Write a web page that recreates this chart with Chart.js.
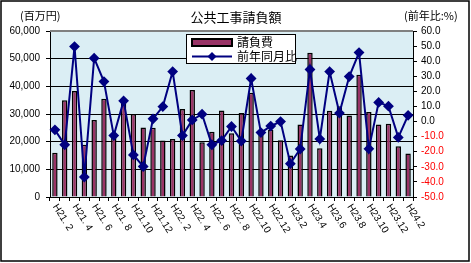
<!DOCTYPE html>
<html>
<head>
<meta charset="utf-8">
<script src="https://cdn.jsdelivr.net/npm/chart.js@4.4.0/dist/chart.umd.min.js"></script>
<style>
html,body{margin:0;padding:0;background:#fff;}
canvas{display:block;}
</style>
</head>
<body>
<canvas id="c" width="471" height="263"></canvas>
<script>
// -------------------- data
var months = ['H21. 2','H21. 3','H21. 4','H21. 5','H21. 6','H21. 7','H21. 8','H21. 9','H21.10','H21.11','H21.12',
	'H22. 1','H22. 2','H22. 3','H22. 4','H22. 5','H22. 6','H22. 7','H22. 8','H22. 9','H22.10','H22.11','H22.12',
	'H23.1','H23.2','H23.3','H23.4','H23.5','H23.6','H23.7','H23.8','H23.9','H23.10','H23.11','H23.12',
	'H24.1','H24.2'];
var amounts = [16000,35000,38300,18900,27800,35500,22000,34800,30000,25100,25000,
	20400,21000,31800,38700,19800,23600,31300,23000,30400,37700,23100,24300,
	20500,15000,26200,52100,17600,31200,32800,29500,44200,30700,26200,26500,
	18300,15700];
var ratios = [-5.5,-15.4,49.7,-36.8,42.0,26.5,-9.3,13.7,-22.1,-29.8,1.8,
	9.9,33.1,-9.3,1.1,4.9,-15.4,-12.6,-3.3,-12.9,28.5,-7.3,-3.0,
	0.0,-27.9,-18.2,34.5,-11.5,33.1,5.6,29.8,45.7,-18.1,12.7,10.2,
	-10.5,4.1];
var chartTitle = '公共工事請負額';
var leftUnit = '(百万円)';
var rightUnit = '(前年比:%)';

var barColor = '#993366';
var lineColor = '#000080';

function commas(v){
	return String(v).replace(/\B(?=(\d{3})+(?!\d))/g, ',');
}

// -------------------- extras drawn on the canvas
var deco = {
	id: 'deco',
	beforeDraw: function(chart){
		var c = chart.ctx, a = chart.chartArea;
		c.save();
		c.fillStyle = '#fff';
		c.fillRect(0,0,chart.width,chart.height);
		c.fillStyle = '#dbeef4';
		c.fillRect(a.left,a.top,a.right-a.left,a.bottom-a.top);
		c.restore();
	},
	afterDraw: function(chart){
		var c = chart.ctx, a = chart.chartArea, xs = chart.scales.x;
		var ds = chart.data.datasets;
		c.save();

		// plot area top edge
		c.strokeStyle = '#808080'; c.lineWidth = 2;
		c.beginPath(); c.moveTo(a.left,a.top); c.lineTo(a.right,a.top); c.stroke();

		// titles
		c.fillStyle = '#000';
		c.textBaseline = 'middle';
		c.font = '13px "Noto Sans CJK JP"';
		c.textAlign = 'center';
		c.fillText(chartTitle, 236, 17);
		c.font = '11px "Noto Sans CJK JP"';
		c.textAlign = 'left';
		c.fillText(leftUnit, 20, 16);
		c.fillText(rightUnit, 404, 16);

		// x labels, every other month, turned clockwise
		c.font = '10px "Liberation Sans"';
		for(var i = 0;i<months.length;i+=2){
			var x = xs.getPixelForValue(i);
			c.save();
			c.translate(x, a.bottom+8);
			c.rotate(58*Math.PI/180);
			c.fillText(months[i],0,0);
			c.restore();
		}

		// legend
		var lx = 186, ly = 34, lw = 109, lh = 29;
		c.fillStyle = '#fff'; c.fillRect(lx,ly,lw,lh);
		c.strokeStyle = '#000'; c.lineWidth = 1;
		c.strokeRect(lx+0.5,ly+0.5,lw,lh);
		c.fillStyle = ds[0].backgroundColor; c.fillRect(192,39,40,7);
		c.lineWidth = 2; c.strokeRect(192,39,40,7);
		c.strokeStyle = ds[1].borderColor;
		c.beginPath(); c.moveTo(192,56.5); c.lineTo(232,56.5); c.stroke();
		c.fillStyle = ds[1].borderColor;
		c.beginPath(); c.moveTo(212,52); c.lineTo(216.5,56.5); c.lineTo(212,61); c.lineTo(207.5,56.5); c.closePath(); c.fill();
		c.fillStyle = '#000';
		c.font = '12px "Noto Sans CJK JP"';
		c.fillText(ds[0].label, 237, 42.5);
		c.fillText(ds[1].label, 237, 56.5);

		// outer frame
		c.strokeStyle = '#000'; c.lineWidth = 1.5;
		c.strokeRect(1,1,chart.width-3,chart.height-3);
		c.restore();
	}
};

Chart.defaults.font.family = '"Liberation Sans", Arial, sans-serif';
Chart.defaults.font.size = 10;
Chart.defaults.color = '#000';

var ctx = document.getElementById('c').getContext('2d');
window.chart1 = new Chart(ctx, {
	type: 'bar',
	data: {
		labels: months,
		datasets: [{
			type: 'bar',
			label: '請負費',
			data: amounts,
			yAxisID: 'y',
			backgroundColor: barColor,
			borderColor: '#000',
			borderWidth: 1.5,
			barPercentage: 0.55,
			categoryPercentage: 1,
			order: 2
		},{
			type: 'line',
			label: '前年同月比',
			data: ratios,
			yAxisID: 'y1',
			borderColor: lineColor,
			backgroundColor: lineColor,
			borderWidth: 2,
			pointStyle: 'rectRot',
			pointRadius: 4,
			pointBackgroundColor: lineColor,
			pointBorderColor: lineColor,
			tension: 0,
			fill: false,
			order: 1
		}]
	},
	options: {
		responsive: false,
		animation: false,
		devicePixelRatio: 1,
		layout: { padding: { top: 31, left: 0, right: 0, bottom: 0 } },
		plugins: { legend: { display: false }, tooltip: { enabled: false }, title: { display: false } },
		scales: {
			x: {
				offset: true,
				grid: { offset: true, drawOnChartArea: false, drawTicks: true, tickLength: 4, color: '#000' },
				border: { color: '#000', width: 1 },
				ticks: { display: false },
				afterFit: function(s){ s.height = 66; }
			},
			y: {
				position: 'left',
				min: 0, max: 60000,
				ticks: { stepSize: 10000, padding: 6, callback: function(v){ return commas(v); } },
				grid: { color: '#000', lineWidth: 1, tickLength: 4 },
				border: { color: '#000', width: 1 },
				afterFit: function(s){ s.width = 50; }
			},
			y1: {
				position: 'right',
				min: -50, max: 60,
				ticks: {
					stepSize: 10, padding: 4,
					callback: function(v){ return v.toFixed(1); },
					color: function(c){ return c.tick && c.tick.value < 0 ? '#ff0000' : '#000'; }
				},
				grid: { drawOnChartArea: false, color: '#000', tickLength: 4 },
				border: { color: '#000', width: 1 },
				afterFit: function(s){ s.width = 58; }
			}
		}
	},
	plugins: [deco]
});
</script>
</body>
</html>
